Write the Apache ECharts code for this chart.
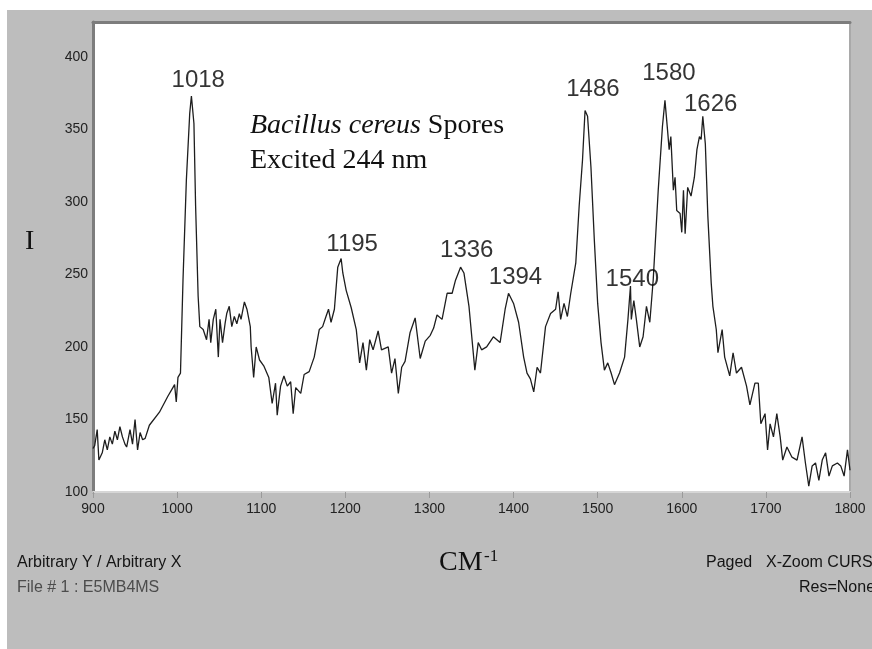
<!DOCTYPE html>
<html>
<head>
<meta charset="utf-8">
<script src="https://cdn.jsdelivr.net/npm/echarts@6/dist/echarts.min.js"></script>
<style>
  html, body { margin: 0; padding: 0; background: #fff; }
  #chart { position: absolute; left: 7px; top: 10px; width: 865px; height: 639px; background: #bdbdbd; }
</style>
</head>
<body>
<div id="chart"></div>
<script>
// spectrum (wavenumber in cm-1, intensity)
const wavenumbers = [
  900, 902, 905, 907, 911, 914, 917, 920, 923, 926, 929, 932, 935, 938, 940, 944, 947, 950, 953, 956, 959, 962, 967,
  979, 989, 995, 997, 999, 1001, 1004, 1007, 1011, 1015, 1017, 1020, 1022, 1025, 1027, 1031, 1035, 1038, 1040, 1043,
  1046, 1049, 1051, 1054, 1057, 1059, 1062, 1065, 1068, 1071, 1074, 1076, 1080, 1083, 1087, 1088, 1091, 1094, 1098, 1103,
  1109, 1113, 1117, 1119, 1123, 1127, 1131, 1135, 1138, 1141, 1147, 1151, 1157, 1163, 1169, 1173, 1177, 1180, 1183, 1187,
  1191, 1195, 1197, 1201, 1207, 1213, 1217, 1221, 1225, 1229, 1233, 1239, 1243, 1251, 1255, 1259, 1263, 1267, 1271, 1277,
  1283, 1289, 1295, 1301, 1305, 1309, 1315, 1321, 1327, 1331, 1337, 1341, 1347,
  1354, 1358, 1362, 1368, 1376, 1384, 1390, 1394, 1400, 1406, 1412, 1416, 1420, 1424, 1428, 1432, 1438, 1444, 1450, 1453,
  1456, 1460, 1464, 1468, 1474, 1478, 1482, 1485, 1488, 1492, 1496, 1500, 1504, 1508, 1512, 1516, 1520, 1526, 1532, 1536,
  1539, 1540, 1543, 1546, 1550, 1554, 1558, 1562, 1566, 1572, 1577, 1580, 1583, 1585, 1587, 1590, 1592, 1594, 1598, 1600,
  1602, 1604, 1607, 1611, 1615, 1618, 1621, 1623, 1625, 1628, 1631, 1635, 1637, 1641, 1643, 1648, 1651, 1657, 1661, 1665,
  1671, 1677, 1681, 1687, 1691, 1694, 1699, 1702, 1705, 1709, 1713, 1717, 1720, 1725, 1731, 1737, 1743, 1747, 1751, 1755,
  1759, 1763, 1767, 1771, 1775, 1779, 1785, 1789, 1793, 1797, 1800
];
const intensity = [
  130, 132, 143, 122, 127, 136, 129, 138, 133, 142, 136, 145, 138, 133, 131, 143, 133, 150, 129, 141, 136, 137, 146,
  155, 166, 172, 174, 162, 179, 182, 246, 315, 361, 373, 354, 297, 235, 214, 212, 205, 219, 203, 219,
  226, 193, 219, 203, 216, 223, 228, 214, 221, 216, 223, 219, 231, 226, 214, 200, 179, 200, 191, 187,
  179, 161, 175, 153, 173, 180, 173, 176, 154, 172, 168, 181, 183, 193, 212, 214, 221, 226, 217, 226,
  255, 261, 251, 239, 227, 212, 189, 203, 184, 205, 198, 211, 198, 200, 182, 192, 168, 186, 190, 210,
  220, 192, 204, 208, 213, 222, 219, 237, 237, 246, 255, 251, 228,
  184, 203, 198, 200, 207, 203, 226, 237, 230, 217, 193, 182, 178, 169, 186, 182, 214, 223, 226, 238,
  219, 230, 221, 237, 258, 297, 329, 363, 359, 324, 274, 230, 203, 184, 189, 182, 174, 182, 193, 219,
  242, 219, 232, 219, 200, 207, 228, 217, 246, 308, 352, 370, 350, 336, 345, 308, 317, 294, 292, 279,
  308, 278, 310, 304, 317, 336, 345, 343, 359, 340, 290, 244, 228, 212, 196, 212, 193, 180, 196, 182,
  186, 173, 160, 175, 175, 147, 154, 129, 147, 138, 154, 138, 122, 131, 124, 122, 138, 120, 104, 118,
  120, 108, 122, 127, 111, 118, 120, 118, 111, 129, 115
];

// labelled bands
const peakWn = [1018, 1195, 1336, 1394, 1486, 1540, 1580, 1626];
const peakI = [373, 261, 255, 237, 363, 242, 370, 359];
const peakLabelOffsets = [[6, -4], [11, -2], [7, -5], [7, -4], [7, -9], [1, 5], [4, -15], [7, 0]];

const xTicks = { min: 900, max: 1800, step: 100 };
const yTicks = { min: 100, max: 424, step: 50 };

const serif = '"Liberation Serif", "DejaVu Serif", serif';
const sans = '"Liberation Sans", Arial, sans-serif';

const chart = echarts.init(document.getElementById('chart'));

const option = {
    animation: false,
    backgroundColor: '#bdbdbd',
    grid: {
        left: 86, top: 12, right: 22, bottom: 157,
        show: true, backgroundColor: '#ffffff', borderWidth: 0
    },
    xAxis: [{
        type: 'value',
        min: xTicks.min, max: xTicks.max, interval: xTicks.step,
        axisLine: { show: true, onZero: false, lineStyle: { color: '#d6d6d6', width: 2 } },
        axisTick: { show: true, length: 6, lineStyle: { color: '#9a9a9a' } },
        axisLabel: { color: '#222', fontFamily: sans, fontSize: 14, margin: 10, formatter: v => String(v) },
        splitLine: { show: false }
    }, {
        type: 'value', position: 'top',
        min: xTicks.min, max: xTicks.max,
        axisLine: { show: true, onZero: false, lineStyle: { color: '#7d7d7d', width: 3 } },
        axisTick: { show: false }, axisLabel: { show: false }, splitLine: { show: false }
    }],
    yAxis: [{
        type: 'value',
        min: yTicks.min, max: yTicks.max, interval: yTicks.step,
        axisLine: { show: true, onZero: false, lineStyle: { color: '#7d7d7d', width: 3 } },
        axisTick: { show: false },
        axisLabel: {
            color: '#222', fontFamily: sans, fontSize: 14, margin: 5,
            formatter: v => (v % 50 === 0 ? String(v) : '')
        },
        splitLine: { show: false }
    }, {
        type: 'value', position: 'right',
        min: yTicks.min, max: yTicks.max,
        axisLine: { show: true, onZero: false, lineStyle: { color: '#a9a9a9', width: 2 } },
        axisTick: { show: false }, axisLabel: { show: false }, splitLine: { show: false }
    }],
    series: [{
        name: 'spectrum',
        type: 'line',
        data: wavenumbers.map((w, i) => [w, intensity[i]]),
        showSymbol: false,
        lineStyle: { color: '#1e1e1e', width: 1.3 },
        z: 3
    }, {
        name: 'peaks',
        type: 'scatter',
        symbolSize: 0,
        data: peakWn.map((w, i) => ({
            value: [w, peakI[i]],
            label: { offset: peakLabelOffsets[i] }
        })),
        label: {
            show: true, position: 'top', distance: 0,
            formatter: p => String(p.value[0]),
            color: '#000', fontFamily: sans, fontSize: 24
        },
        z: 4
    }],
    graphic: [
        { type: 'text', left: 243, top: 102, z: 10,
          style: { text: '{i|Bacillus cereus} Spores', font: '28px ' + serif, fill: '#111',
                   rich: { i: { fontStyle: 'italic', fontFamily: serif, fontSize: 28 } } } },
        { type: 'text', left: 243, top: 137, z: 10,
          style: { text: 'Excited 244 nm', font: '28px ' + serif, fill: '#111' } },
        { type: 'text', left: 18, top: 218, z: 10,
          style: { text: 'I', font: '28px ' + serif, fill: '#111' } },
        { type: 'text', left: 432, top: 539, z: 10,
          style: { text: 'CM', font: '28px ' + serif, fill: '#111' } },
        { type: 'text', left: 477, top: 538, z: 10,
          style: { text: '-1', font: '17px ' + serif, fill: '#111' } },
        { type: 'text', left: 10, top: 545, z: 10,
          style: { text: 'Arbitrary Y / Arbitrary X', font: '16px ' + sans, fill: '#151515' } },
        { type: 'text', left: 10, top: 570, z: 10,
          style: { text: 'File # 1 : E5MB4MS', font: '16px ' + sans, fill: '#4c4c4c' } },
        { type: 'text', left: 699, top: 545, z: 10,
          style: { text: 'Paged', font: '16px ' + sans, fill: '#151515' } },
        { type: 'text', left: 759, top: 545, z: 10,
          style: { text: 'X-Zoom CURS', font: '16px ' + sans, fill: '#151515' } },
        { type: 'text', left: 792, top: 570, z: 10,
          style: { text: 'Res=None', font: '16px ' + sans, fill: '#151515' } }
    ]
};

chart.setOption(option);
</script>
</body>
</html>
